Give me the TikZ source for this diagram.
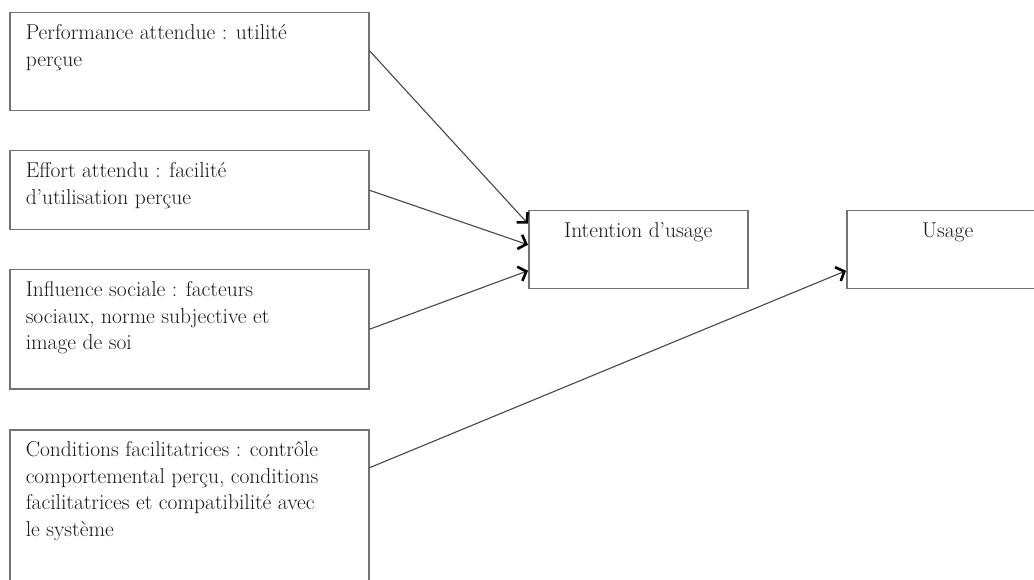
\documentclass[tikz,border=0pt]{standalone}
\usepackage{tikz}
\usetikzlibrary{arrows.meta}
\tikzset{
facteur/.style={draw=black!55, line width=1.5pt, anchor=north west, inner xsep=16pt, inner ysep=12pt, text=black!90},
fleche/.style={draw=black!72, line width=1.1pt, -{Straight Barb[length=7pt, width=15pt, line width=2.6pt, black]}}
}
\newcommand{\boxtxt}[3]{\parbox[c][#1][t]{#2}{\raggedright #3}}
\newcommand{\boxmid}[3]{\parbox[c][#1][t]{#2}{\centering #3}}

\begin{document}
\begin{tikzpicture}[x=1pt, y=-1pt, font=\fontsize{21.5}{26.5}\selectfont]
\clip (0,0) rectangle (1034,580);
\fill[white] (0,0) rectangle (1034,580);
% facteurs
\node[facteur] (perf) at (9,12) {\boxtxt{74pt}{327pt}{Performance attendue : utilité\\ perçue}};
\node[facteur] (effort) at (9,150) {\boxtxt{55pt}{327pt}{Effort attendu : facilité\\ d’utilisation perçue}};
\node[facteur] (influ) at (9,269) {\boxtxt{95pt}{327pt}{Influence sociale : facteurs\\ sociaux, norme subjective et\\ image de soi}};
\node[facteur] (cond) at (9,429) {\boxtxt{146pt}{327pt}{Conditions facilitatrices : contrôle\\ comportemental perçu, conditions\\ facilitatrices et compatibilité avec\\ le système}};
% intention et usage
\node[facteur] (inten) at (528,210) {\boxmid{54pt}{187pt}{Intention d’usage}};
\node[facteur] (usage) at (846,210) {\boxmid{54pt}{170pt}{Usage}};
% fleches
\draw[fleche] ([yshift=11pt]perf.east) -- ([yshift=26pt]inten.west);
\draw[fleche] ([yshift=0pt]effort.east) -- ([yshift=5pt]inten.west);
\draw[fleche] ([yshift=0pt]influ.east) -- ([yshift=-21pt]inten.west);
\draw[fleche] ([yshift=47pt]cond.east) -- ([yshift=-21pt]usage.west);
\end{tikzpicture}
\end{document}
